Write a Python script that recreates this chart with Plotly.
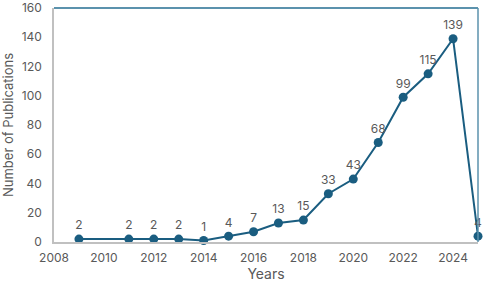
import plotly.graph_objects as go

years = [2009, 2011, 2012, 2013, 2014, 2015, 2016, 2017, 2018, 2019, 2020, 2021, 2022, 2023, 2024, 2025]
counts = [2, 2, 2, 2, 1, 4, 7, 13, 15, 33, 43, 68, 99, 115, 139, 4]
x_ticks = [2008, 2010, 2012, 2014, 2016, 2018, 2020, 2022, 2024]
y_ticks = [0, 20, 40, 60, 80, 100, 120, 140, 160]

line_color = "#1a5d80"
text_color = "#595959"
font_family = "Inter, Open Sans, sans-serif"

fig = go.Figure(go.Scatter(
    x=years, y=counts, mode="lines+markers+text",
    text=[str(c) for c in counts], textposition="top center",
    textfont=dict(size=12, color=text_color, family=font_family),
    line=dict(color=line_color, width=2),
    marker=dict(color=line_color, size=9),
    cliponaxis=False,
))

fig.update_layout(
    width=484, height=286,
    margin=dict(l=54, r=6, t=8, b=44, autoexpand=False),
    paper_bgcolor="white", plot_bgcolor="white",
    showlegend=False,
    font=dict(family=font_family, size=12, color=text_color),
)
fig.update_xaxes(
    range=[2008, 2025], tickvals=x_ticks, showgrid=False, zeroline=False,
    showline=True, linecolor="#c0c0c0", linewidth=1.5, automargin=False,
    ticks="outside", ticklen=4, tickcolor="rgba(0,0,0,0)",
    title=dict(text="Years", font=dict(size=14, color=text_color), standoff=2),
    tickfont=dict(size=12, color=text_color),
)
fig.update_yaxes(
    range=[0, 160], tickvals=y_ticks, showgrid=False, zeroline=False,
    showline=True, linecolor="#c0c0c0", linewidth=1.5, automargin=False,
    ticks="outside", ticklen=8, tickcolor="rgba(0,0,0,0)",
    title=dict(text="Number of Publications", font=dict(size=13, color=text_color), standoff=8),
    tickfont=dict(size=12, color=text_color),
)
fig.add_shape(type="line", xref="paper", yref="paper", x0=0, x1=1, y0=1, y1=1,
              layer="above", line=dict(color="#5b92ad", width=2))
fig.add_shape(type="line", xref="paper", yref="paper", x0=1, x1=1, y0=0, y1=1,
              layer="above", line=dict(color="#5b92ad", width=1.5))

fig.write_html("out.html", config={"displayModeBar": False},
               post_script="document.body.style.margin='0px';document.body.style.overflow='hidden';")
